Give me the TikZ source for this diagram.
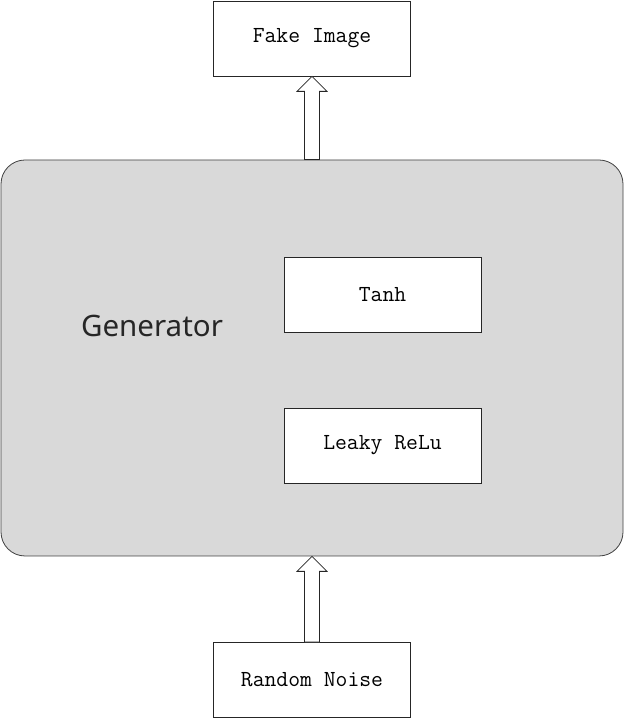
\documentclass[tikz,border=0pt]{standalone}
\usepackage{fontspec}
\newfontfamily\genfont{Noto Sans}
\usetikzlibrary{positioning,calc}

\tikzset{
  layer/.style={draw=black!85, fill=white, line width=0.8pt, minimum width=197pt, minimum height=75pt, font=\ttfamily\fontsize{23}{27}\selectfont},
  genbox/.style={draw=black!75, fill=black!15, line width=0.8pt, rounded corners=24pt, minimum width=622pt, minimum height=396pt},
  hollow/.style={draw=black!85, fill=white, line width=0.8pt}
}
\newcommand{\blockarrow}[2]{%
  \draw[hollow] ($(#1.north)+(-7.5,0)$) |- ($(#2.south)+(-15,-15)$) -- (#2.south)
    -- ++(15,-15) -| ($(#1.north)+(7.5,0)$) -- cycle;}

\begin{document}
\begin{tikzpicture}[x=1pt,y=1pt,node distance=2cm,on grid]
\useasboundingbox (0,0) rectangle (624,719);
\node[genbox] (gen) at (312,361) {};
\node[layer] (fake) [above=319.5pt of gen] {Fake Image};
\node[layer] (noise) [below=322pt of gen] {Random Noise};
\node[layer] (tanh) at (382.5,424.5) {Tanh};
\node[layer] (relu) at (382.5,273.5) {Leaky ReLu};
\node[font=\genfont\fontsize{29.5}{34}\selectfont, text=black!85] (genlabel) at (152,393) {Generator};

% arrows in and out of the generator
\blockarrow{gen}{fake}
\blockarrow{noise}{gen}
\end{tikzpicture}
\end{document}
